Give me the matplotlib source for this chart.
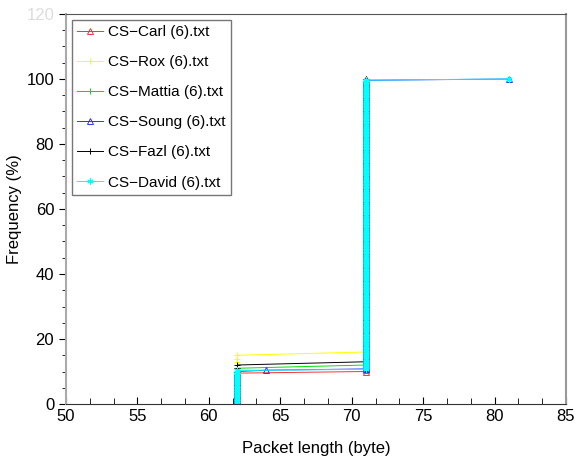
import numpy as np
import matplotlib
matplotlib.use('Agg')
import matplotlib.pyplot as plt
from matplotlib.ticker import MultipleLocator

plt.rcParams['font.family'] = ['Liberation Sans', 'DejaVu Sans']

# packet lengths seen in each capture and how many packets had that length
names = ['CS\u2212Carl (6).txt', 'CS\u2212Rox (6).txt', 'CS\u2212Mattia (6).txt',
         'CS\u2212Soung (6).txt', 'CS\u2212Fazl (6).txt', 'CS\u2212David (6).txt']
lengths = [[62, 71], [62, 71], [62, 71], [62, 64, 71, 81], [62, 71], [62, 71, 81]]
counts = [[19, 181], [15, 85], [11, 89], [25, 1, 223, 1], [12, 88], [31, 268, 1]]

colors = ['#ff3030', '#ffff00', '#00e000', '#3030ff', '#000000', '#00ffff']
markers = ['^', '+', '+', '^', '+', (6, 2, 0)]
filled = [False, True, True, False, True, True]

fig = plt.figure(figsize=(5.86, 4.61), dpi=100)
ax = fig.add_axes([66/586, 1 - 404/461, 500/586, 390/461])

for i in range(len(names)) :
    x = np.repeat(lengths[i], counts[i])
    n = len(x)
    y = 100.0 * np.arange(1, n + 1) / n   # cumulative frequency
    ax.plot(x, y, color=colors[i], lw=0.7, marker=markers[i], ms=4.5,
            mfc=colors[i] if filled[i] else 'none', mec=colors[i], mew=0.7,
            label=names[i])

ax.set_xlim(50, 85)
ax.set_ylim(0, 120)
ax.xaxis.set_major_locator(MultipleLocator(5))
ax.xaxis.set_minor_locator(MultipleLocator(5/3))
ax.yaxis.set_major_locator(MultipleLocator(20))
ax.yaxis.set_minor_locator(MultipleLocator(5))
ax.tick_params(axis='x', which='both', direction='in', top=False, labelsize=12)
ax.tick_params(axis='x', which='major', length=5)
ax.tick_params(axis='x', which='minor', length=4)
ax.tick_params(axis='y', which='both', direction='out', right=False, labelsize=12)
ax.tick_params(axis='y', which='major', length=5)
ax.tick_params(axis='y', which='minor', length=3)
for lab in ax.get_yticklabels() :
    if lab.get_text() == '120' :
        lab.set_color('#dddddd')

ax.spines['left'].set_color('#aaaaaa')
ax.spines['left'].set_linewidth(1.5)
ax.spines['bottom'].set_color('#333333')
ax.spines['top'].set_color('#555555')
ax.spines['right'].set_color('#999999')
ax.spines['right'].set_linewidth(1.5)

ax.set_xlabel('Packet length (byte)', fontsize=12, labelpad=12)
ax.set_ylabel('Frequency (%)', fontsize=12, labelpad=3)

leg = ax.legend(loc='upper left', fontsize=11, fancybox=False, edgecolor='#555555',
                borderaxespad=0.39, handlelength=1.65, labelspacing=1.05,
                borderpad=0.35, handletextpad=0.38)
leg.get_frame().set_linewidth(1.0)

plt.savefig('out.png', dpi=100)
